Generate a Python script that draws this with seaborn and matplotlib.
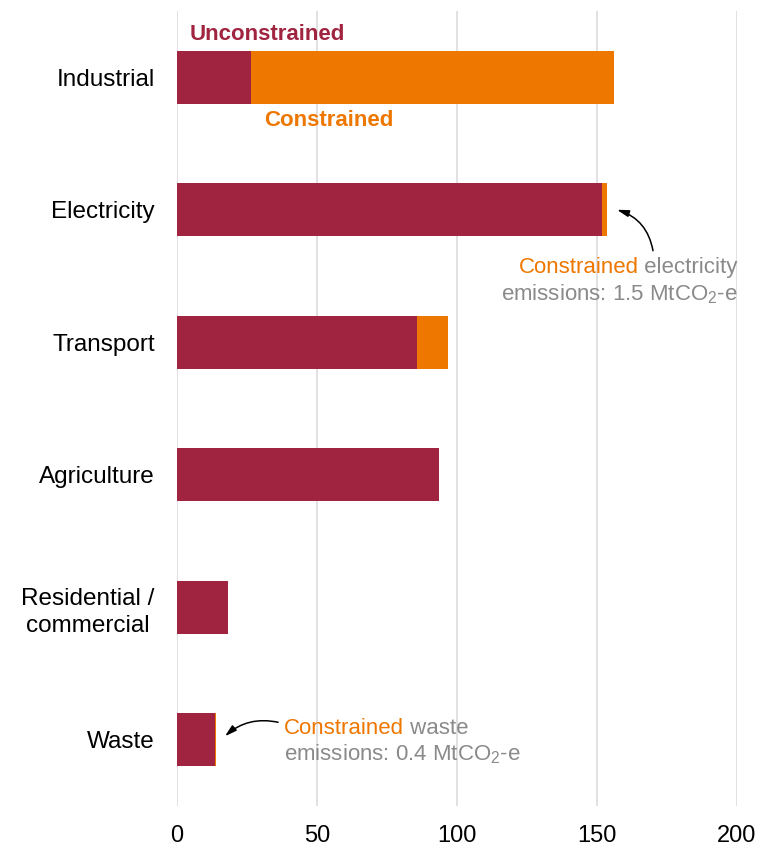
import matplotlib
matplotlib.use("Agg")
import matplotlib.pyplot as plt
import seaborn as sns
import pandas as pd

# Emissions by sector, MtCO2-e
sectors = ["Industrial", "Electricity", "Transport", "Agriculture",
           "Residential /\ncommercial", "Waste"]
unconstrained = [26.4, 151.9, 85.7, 93.6, 18.1, 13.6]
constrained = [129.7, 1.5, 11.1, 0.0, 0.0, 0.4]
x_ticks = [0, 50, 100, 150, 200]

RED = "#A0243F"
ORANGE = "#EE7700"
GRAY = "#8A8A8A"

sns.set_style("white")
plt.rcParams["font.family"] = ["Liberation Sans", "DejaVu Sans"]
plt.rcParams["mathtext.default"] = "regular"

df = pd.DataFrame({
    "sector": sectors,
    "unconstrained": unconstrained,
    "constrained": constrained,
})
df["total"] = df["unconstrained"] + df["constrained"]

fig = plt.figure(figsize=(7.6, 8.48), dpi=100)
ax = fig.add_axes([177 / 760, 1 - 806 / 848, 560 / 760, 795 / 848])

# stacked bars: full total in orange, unconstrained part drawn over it
sns.barplot(data=df, x="total", y="sector", orient="h", color=ORANGE,
            saturation=1, width=0.4, linewidth=0, ax=ax)
sns.barplot(data=df, x="unconstrained", y="sector", orient="h", color=RED,
            saturation=1, width=0.4, linewidth=0, ax=ax)

ax.set_xlim(0, 200)
ax.set_ylim(5.5, -0.5)
ax.set_xticks(x_ticks)
ax.set_xticklabels([str(t) for t in x_ticks])
ax.set_xlabel("")
ax.set_ylabel("")
ax.xaxis.grid(True, color="#DEDEDE", linewidth=1.3)
ax.yaxis.grid(False)
ax.set_axisbelow(True)
for s in ax.spines.values():
    s.set_visible(False)
ax.tick_params(axis="x", length=0, pad=14, labelsize=17, labelcolor="black")
ax.tick_params(axis="y", length=0, pad=16, labelsize=17.5, labelcolor="black")
for lab in ax.get_yticklabels():
    lab.set_multialignment("center")
    lab.set_linespacing(1.3)

# series labels
ax.text(4.6, -0.324, "Unconstrained", color=RED, fontsize=16,
        fontweight="bold", ha="left", va="center")
ax.text(31.1, 0.33, "Constrained", color=ORANGE, fontsize=16,
        fontweight="bold", ha="left", va="center")

# electricity callout
e1 = ax.text(200.3, 1.437, " electricity", color=GRAY, fontsize=16,
             ha="right", va="center")
ax.annotate("Constrained", xy=(0, 0), xycoords=e1, color=ORANGE,
            fontsize=16, ha="right", va="bottom")
ax.text(200.3, 1.64, "emissions: 1.5 MtCO$_2$-e", color=GRAY, fontsize=16,
        ha="right", va="center")
ax.annotate("", xy=(157.1, 1.0), xytext=(170.0, 1.309),
            arrowprops=dict(arrowstyle="-|>,head_length=0.7,head_width=0.2",
                            color="black", lw=1.1, shrinkA=0, shrinkB=0,
                            connectionstyle="arc3,rad=0.3"))

# waste callout
w1 = ax.text(38.3, 4.913, "Constrained", color=ORANGE, fontsize=16,
             ha="left", va="center")
ax.annotate(" waste", xy=(1, 0), xycoords=w1, color=GRAY,
            fontsize=16, ha="left", va="bottom")
ax.text(38.3, 5.109, "emissions: 0.4 MtCO$_2$-e", color=GRAY, fontsize=16,
        ha="left", va="center")
ax.annotate("", xy=(17.1, 4.974), xytext=(36.1, 4.868),
            arrowprops=dict(arrowstyle="-|>,head_length=0.7,head_width=0.2",
                            color="black", lw=1.1, shrinkA=0, shrinkB=0,
                            connectionstyle="arc3,rad=0.25"))

fig.savefig("out.png", dpi=100)
